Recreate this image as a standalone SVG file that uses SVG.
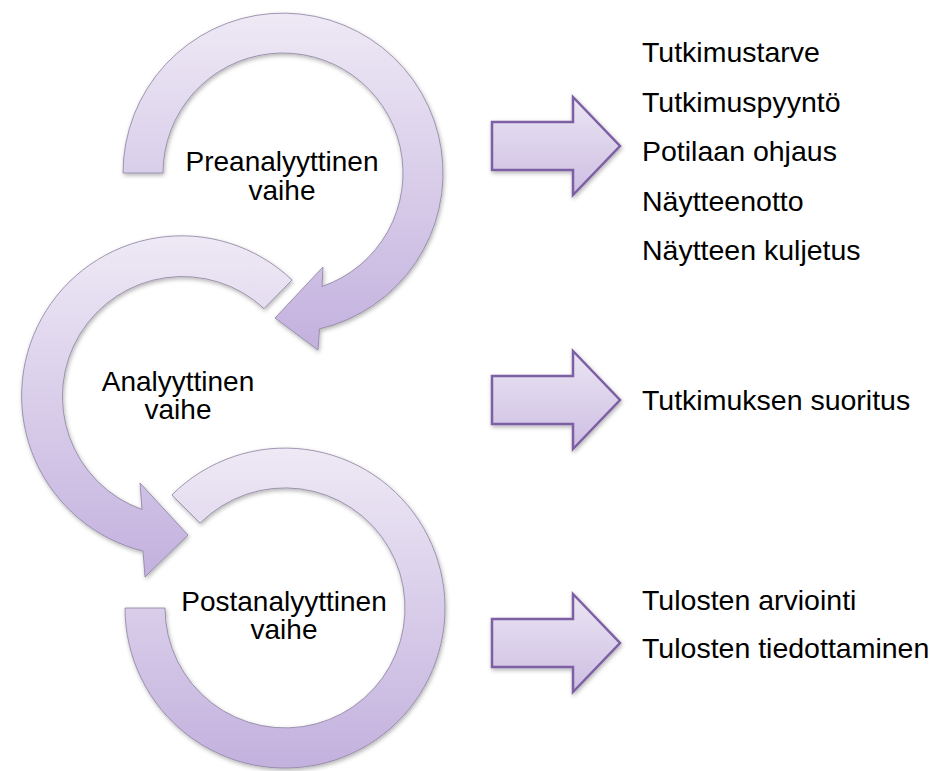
<svg xmlns="http://www.w3.org/2000/svg" width="936" height="771" viewBox="0 0 936 771">
<defs>
<linearGradient id="ringGrad" x1="0" y1="0" x2="0" y2="1">
<stop offset="0" stop-color="#eee9f5"/>
<stop offset="1" stop-color="#c3b1de"/>
</linearGradient>
<linearGradient id="arrGrad" x1="0" y1="0" x2="0" y2="1">
<stop offset="0" stop-color="#ebe5f3"/>
<stop offset="1" stop-color="#cdbee3"/>
</linearGradient>
<filter id="shadow" x="-10%" y="-10%" width="120%" height="120%">
<feDropShadow dx="1" dy="2" stdDeviation="2" flood-color="#000" flood-opacity="0.3"/>
</filter>
<path id="bigArrow" d="M492,122 H573 V97 L620,146 L573,195 V170 H492 Z"/>
</defs>
<style>
.ring{fill:url(#ringGrad);stroke:#8c80a0;stroke-width:0.8;filter:url(#shadow)}
.arr{fill:url(#arrGrad);stroke:#7d5fa3;stroke-width:2.5;stroke-linejoin:miter;filter:url(#shadow)}
.lbl{font-family:"Liberation Sans",Arial,sans-serif;font-size:28px;fill:#000;text-anchor:middle}
.item{font-family:"Liberation Sans",Arial,sans-serif;font-size:28.5px;fill:#000}
</style>
<rect width="936" height="771" fill="#fff"/>

<g id="ring-post">
<path class="ring" d="M171.9,494.9 A160,160 0 1 1 125,608 L165,608 A120,120 0 1 0 200.1,523.1 Z"/>
<text class="lbl" x="284" y="611">Postanalyyttinen</text>
<text class="lbl" x="284" y="639">vaihe</text>
</g>

<g id="ring-analyyttinen">
<path class="ring" d="M292,280 A160,160 0 1 0 143,551.1 L145,577 L188,535 L140,483 L142,509.5 A120,120 0 1 1 264,308.5 Z"/>
<text class="lbl" x="178" y="391">Analyyttinen</text>
<text class="lbl" x="178" y="419">vaihe</text>
</g>

<g id="ring-pre">
<path class="ring" d="M123,173 A160,160 0 1 1 319.5,328.9 L318,350 L275,318 L323,267 L322,286.5 A120,120 0 1 0 163,173 Z"/>
<text class="lbl" x="282" y="171">Preanalyyttinen</text>
<text class="lbl" x="282" y="200">vaihe</text>
</g>

<g id="connectors">
<use href="#bigArrow" class="arr"/>
<use href="#bigArrow" class="arr" transform="translate(0,254)"/>
<use href="#bigArrow" class="arr" transform="translate(0,497)"/>
</g>

<g id="list-pre">
<text class="item" x="642" y="62">Tutkimustarve</text>
<text class="item" x="642" y="112">Tutkimuspyyntö</text>
<text class="item" x="642" y="161">Potilaan ohjaus</text>
<text class="item" x="642" y="211">Näytteenotto</text>
<text class="item" x="642" y="260">Näytteen kuljetus</text>
</g>
<g id="list-analyyttinen">
<text class="item" x="642" y="410">Tutkimuksen suoritus</text>
</g>
<g id="list-post">
<text class="item" x="642" y="610">Tulosten arviointi</text>
<text class="item" x="642" y="658">Tulosten tiedottaminen</text>
</g>
</svg>
